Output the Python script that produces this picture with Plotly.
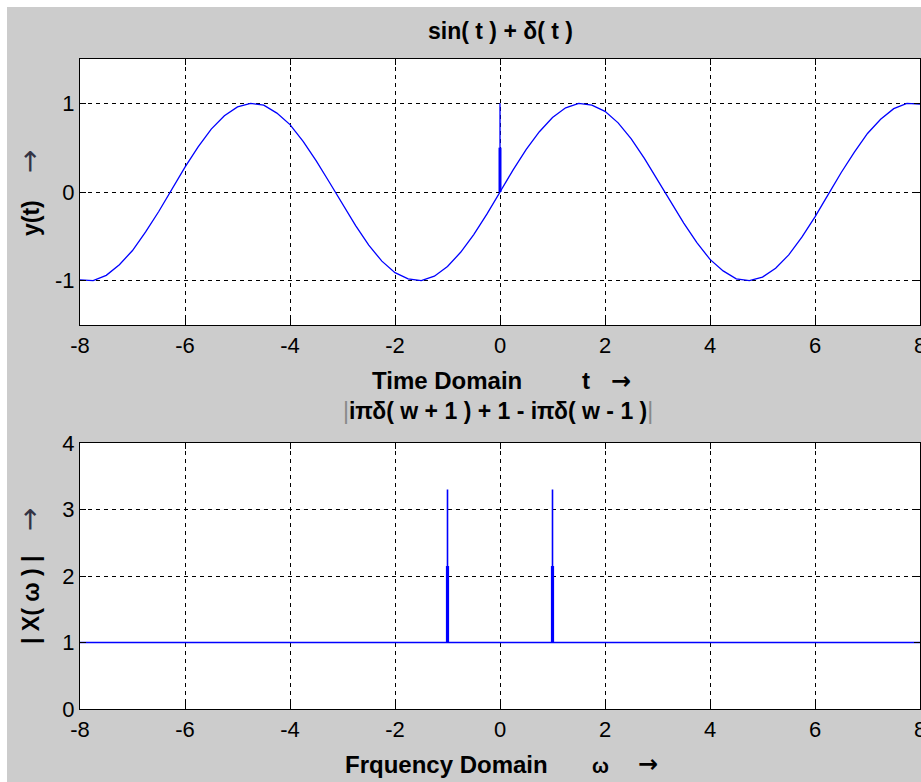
import plotly.graph_objects as go
from plotly.subplots import make_subplots

# ---------------- data ----------------
t_vals = [-8.0, -7.75, -7.5, -7.25, -7.0, -6.75, -6.5, -6.25, -6.0, -5.75, -5.5, -5.25,
          -5.0, -4.75, -4.5, -4.25, -4.0, -3.75, -3.5, -3.25, -3.0, -2.75, -2.5, -2.25,
          -2.0, -1.75, -1.5, -1.25, -1.0, -0.75, -0.5, -0.25, 0.0,
          0.0, 0.0,
          0.25, 0.5, 0.75, 1.0, 1.25, 1.5, 1.75, 2.0, 2.25, 2.5, 2.75, 3.0, 3.25, 3.5,
          3.75, 4.0, 4.25, 4.5, 4.75, 5.0, 5.25, 5.5, 5.75, 6.0, 6.25, 6.5, 6.75, 7.0,
          7.25, 7.5, 7.75, 8.0]
y_vals = [-0.99, -1.0, -0.94, -0.82, -0.66, -0.45, -0.22, 0.03, 0.28, 0.51, 0.71, 0.86,
          0.96, 1.0, 0.98, 0.89, 0.76, 0.57, 0.35, 0.11, -0.14, -0.38, -0.6, -0.78,
          -0.91, -0.98, -1.0, -0.95, -0.84, -0.68, -0.48, -0.25, 0.0,
          1.0, 0.0,
          0.25, 0.48, 0.68, 0.84, 0.95, 1.0, 0.98, 0.91, 0.78, 0.6, 0.38, 0.14, -0.11, -0.35,
          -0.57, -0.76, -0.89, -0.98, -1.0, -0.96, -0.86, -0.71, -0.51, -0.28, -0.03, 0.22,
          0.45, 0.66, 0.82, 0.94, 1.0, 0.99]
delta_t = [0.0, 0.0]
delta_thick = [0.0, 0.5]

w_vals = [-8.0, -1.0, -1.0, -1.0, 1.0, 1.0, 1.0, 8.0]
X_vals = [1.0, 1.0, 3.3, 1.0, 1.0, 3.3, 1.0, 1.0]
spike_w = [-1.0, 1.0]
spike_thick = [2.15, 2.15]

x_ticks = [-8, -6, -4, -2, 0, 2, 4, 6, 8]
y1_ticks = [-1, 0, 1]
y2_ticks = [0, 1, 2, 3, 4]

# ---------------- figure ----------------
W, H = 921, 782
L, R, T, B = 80, 1, 59, 73
pw, ph = W - L - R, H - T - B


def px(x):
    return (x - L) / pw


def py(y):
    return (H - B - y) / ph


top_dom = [py(325), 1.0]
bot_dom = [0.0, py(443)]

fig = make_subplots(rows=2, cols=1)

blue = "#0000ff"
fig.add_trace(go.Scatter(x=t_vals, y=y_vals, mode="lines",
                         line=dict(color=blue, width=1.3), showlegend=False), row=1, col=1)
fig.add_trace(go.Scatter(x=delta_t, y=delta_thick, mode="lines",
                         line=dict(color=blue, width=3), showlegend=False), row=1, col=1)
fig.add_trace(go.Scatter(x=w_vals, y=X_vals, mode="lines",
                         line=dict(color=blue, width=1.6), showlegend=False), row=2, col=1)
for wv, th in zip(spike_w, spike_thick):
    fig.add_trace(go.Scatter(x=[wv, wv], y=[1.0, th], mode="lines",
                             line=dict(color=blue, width=3.2), showlegend=False), row=2, col=1)

FONT = "Liberation Sans Narrow, Arial Narrow, Liberation Sans, Arial"
ARROWFONT = "DejaVu Sans"
tickfont = dict(family=FONT, size=22, color="black")

axis_common = dict(showline=True, linecolor="black", linewidth=1.2, mirror="ticks",
                   ticks="inside", ticklen=6, tickcolor="black", tickwidth=1,
                   showgrid=True, gridcolor="black", gridwidth=1, griddash="4px,4px",
                   zeroline=False, tickfont=tickfont, ticklabeloverflow="allow",
                   automargin=False)

fig.update_xaxes(range=[-8, 8], tickvals=x_ticks, ticktext=[str(v) for v in x_ticks],
                 **axis_common)
fig.update_xaxes(domain=[0, 1], row=1, col=1)
fig.update_xaxes(domain=[0, 1], row=2, col=1)
fig.update_yaxes(range=[-1.5, 1.5], tickvals=y1_ticks, ticktext=[str(v) for v in y1_ticks],
                 domain=top_dom, row=1, col=1, **axis_common)
fig.update_yaxes(range=[0, 4], tickvals=y2_ticks, ticktext=[str(v) for v in y2_ticks],
                 domain=bot_dom, row=2, col=1, **axis_common)

bold = dict(family=FONT, size=23, color="black")
big = dict(family=FONT, size=24, color="black")
arrow_h = dict(family=ARROWFONT, size=24, color="black")
arrow_v = dict(family=ARROWFONT, size=28, color="#333344")
annotations = [
    dict(text="<b>sin( t ) + δ( t )</b>", x=px(500), y=py(31), font=bold),
    dict(text="<b>Time Domain</b>", x=px(447), y=py(380), font=big),
    dict(text="<b>t</b>", x=px(586), y=py(380), font=big),
    dict(text="<b>→</b>", x=px(621), y=py(381), font=arrow_h),
    dict(text="<span style='color:#888888'>|</span><b>iπδ( w + 1 ) + 1 - iπδ( w - 1 )</b><span style='color:#888888'>|</span>",
         x=px(498), y=py(411), font=bold),
    dict(text="<b>Frquency Domain</b>", x=px(446), y=py(764), font=big),
    dict(text="<b>ω</b>", x=px(600), y=py(766), font=dict(family=FONT, size=20, color="black")),
    dict(text="<b>→</b>", x=px(648), y=py(764), font=arrow_h),
    dict(text="<b>y(t)</b>", x=px(31), y=py(218), textangle=-90, font=bold),
    dict(text="→", x=px(29), y=py(162), textangle=-90, font=arrow_v),
    dict(text="<b>| X( ω ) |</b>", x=px(31), y=py(600), textangle=-90, font=bold),
    dict(text="→", x=px(29), y=py(520), textangle=-90, font=arrow_v),
]
for a in annotations:
    a.update(xref="paper", yref="paper", showarrow=False, xanchor="center", yanchor="middle")

fig.update_layout(
    width=W, height=H,
    margin=dict(l=L, r=R, t=T, b=B, pad=0, autoexpand=False),
    paper_bgcolor="#cccccc", plot_bgcolor="white",
    annotations=annotations,
    shapes=[
        dict(type="rect", xref="paper", yref="paper", x0=px(-5), x1=px(7), y0=py(H + 5), y1=py(-5),
             fillcolor="white", line=dict(width=0), layer="above"),
        dict(type="rect", xref="paper", yref="paper", x0=px(-5), x1=px(W + 5), y0=py(7), y1=py(-5),
             fillcolor="white", line=dict(width=0), layer="above"),
    ],
)

fig.write_html("out.html")
